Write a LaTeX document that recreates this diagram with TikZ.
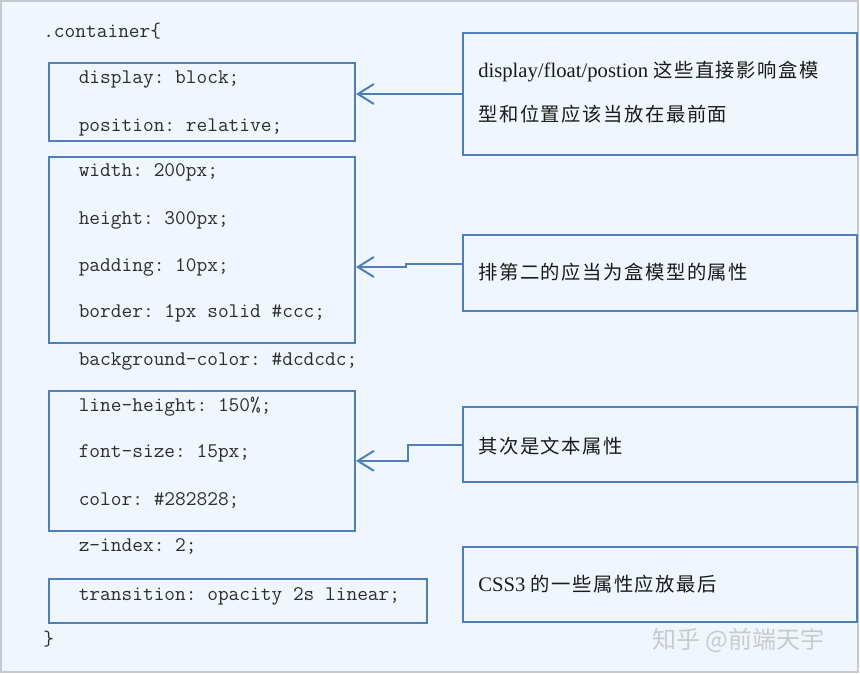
\documentclass[tikz,border=0pt]{standalone}
\usepackage{fontspec}
\setmainfont{Liberation Serif}
\newfontfamily\cjk[LetterSpace=8]{Noto Sans CJK SC}
\newfontfamily\markfont{Noto Sans CJK SC}
\usetikzlibrary{fit,arrows.meta}

\definecolor{pagebg}{RGB}{240,246,253}
\definecolor{edgegray}{RGB}{196,201,208}
\definecolor{boxblue}{RGB}{79,127,183}
\definecolor{codegray}{RGB}{45,45,45}
\definecolor{notegray}{RGB}{26,26,26}
\definecolor{markgray}{RGB}{200,202,206}

\frenchspacing
\newcommand{\codefont}{\ttfamily\fontsize{15.6pt}{18pt}\selectfont}
\newcommand{\latinfont}{\rmfamily\fontsize{15.5pt}{18pt}\selectfont}
\newcommand{\zhfont}{\cjk\fontsize{14.5pt}{18pt}\selectfont}

\tikzset{
  codebox/.style={draw=boxblue,line width=1.5pt,inner sep=0pt},
  codeline/.style={anchor=base west,inner sep=0pt,font=\codefont,text=codegray},
  notetext/.style={anchor=base west,inner sep=0pt,text=notegray},
  link/.style={draw=boxblue,line width=1.5pt,-{Straight Barb[length=12pt,width=15pt]}}
}

\begin{document}
\begin{tikzpicture}[x=0.75pt,y=-0.75pt]

\useasboundingbox (0,0) rectangle (860,674);
\fill[white] (0,0) rectangle (860,674);
\draw[fill=pagebg,draw=edgegray,line width=1.5pt] (1,1) rectangle (858,672);

% code lines
\node[codeline] (open) at (43,37.5) {.container\{};
\node[codeline] (l1) at (78.5,83.3) {display: block;};
\node[codeline] (l2) at (78.5,131.7) {position: relative;};
\node[codeline] (l3) at (78.5,176.7) {width: 200px;};
\node[codeline] (l4) at (78.5,224) {height: 300px;};
\node[codeline] (l5) at (78.5,271.7) {padding: 10px;};
\node[codeline] (l6) at (78.5,317.7) {border: 1px solid \#ccc;};
\node[codeline] (l7) at (78.5,365.7) {background-color: \#dcdcdc;};
\node[codeline] (l8) at (78.5,411.7) {line-height: 150\%;};
\node[codeline] (l9) at (78.5,457.7) {font-size: 15px;};
\node[codeline] (l10) at (78.5,505.7) {color: \#282828;};
\node[codeline] (l11) at (78.5,551.7) {z-index: 2;};
\node[codeline] (l12) at (78.5,600) {transition: opacity 2s linear;};
\node[codeline] (close) at (43,645) {\}};

% groups
\node[codebox,fit={(49,62.7) (355,140.7)}] (grp1) {};
\node[codebox,fit={(49,157) (355,342.7)}] (grp2) {};
\node[codebox,fit={(49,391) (355,530.7)}] (grp3) {};
\node[codebox,fit={(49,578.7) (427.3,622.7)}] (grp4) {};

% notes
\node[codebox,fit={(462.7,33.3) (856.7,154.7)}] (note1) {};
\node[codebox,fit={(462.7,235.3) (856.7,310.7)}] (note2) {};
\node[codebox,fit={(462.7,407.3) (856.7,482.3)}] (note3) {};
\node[codebox,fit={(462.7,547) (856.7,622.3)}] (note4) {};

\node[notetext] (t1a) at (478,77.7) {{\latinfont display/float/postion }{\zhfont 这些直接影响盒模}};
\node[notetext] (t1b) at (478,122) {\zhfont 型和位置应该当放在最前面};
\node[notetext] (t2) at (478,279.5) {\zhfont 排第二的应当为盒模型的属性};
\node[notetext] (t3) at (478,453.5) {\zhfont 其次是文本属性};
\node[notetext] (t4) at (478,591.7) {{\latinfont CSS3 }{\zhfont 的一些属性应放最后}};

% arrows
\draw[link] (note1.west) -- (note1.west -| grp1.east);
\draw[link] ([yshift=6.5pt]note2.west) -- ++(-56,0) |- (grp2.east |- 0,267);
\draw[link] (note3.west) -- ++(-54,0) |- (grp3.east);

\node[anchor=base west,inner sep=0pt,text=markgray,font=\markfont\fontsize{18pt}{20pt}\selectfont] (mark) at (652,648) {知乎 @前端天宇};
\end{tikzpicture}
\end{document}
